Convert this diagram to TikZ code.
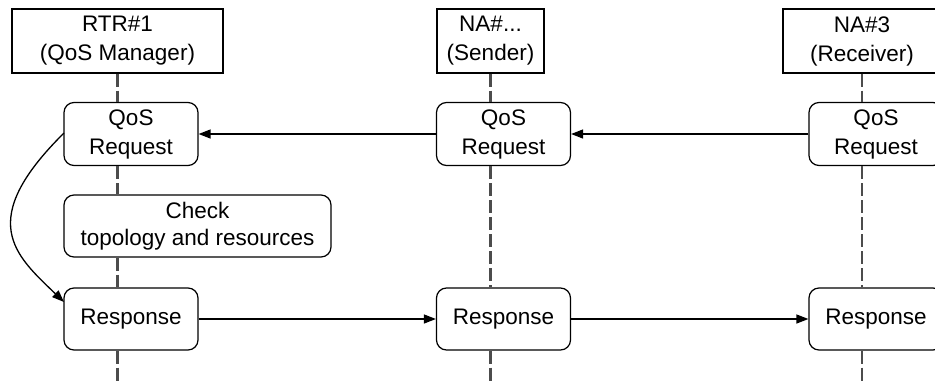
\documentclass[tikz,border=0pt]{standalone}
\usepackage{fontspec}
\setmainfont{Liberation Sans}
\usetikzlibrary{arrows.meta}
\begin{document}
\begin{tikzpicture}[x=1pt,y=-1pt,
  txt/.style={font=\fontsize{22.5}{29}\selectfont, align=center, inner sep=0pt},
  hdr/.style={txt, draw, line width=1.4pt, rectangle, minimum height=64pt},
  act/.style={txt, draw, line width=1.2pt, rectangle, rounded corners=10pt, minimum height=63pt},
  life/.style={draw=black!70, line width=2.8pt, dash pattern=on 13pt off 4pt},
  msg/.style={line width=1.3pt, -{Triangle[length=12pt,width=9pt]}}]
\useasboundingbox (0,0) rectangle (935,383);
% headers
\node[hdr, minimum width=211pt] (h1) at (117.5,41) {RTR\#1\\(QoS Manager)};
\node[hdr, minimum width=107pt] (h2) at (490.5,41) {NA\#...\\(Sender)};
\node[hdr, minimum width=158pt] (h3) at (862,41) {NA\#3\\(Receiver)};
% request boxes
\node[act, minimum width=134pt] (q1) at (131,134) {QoS\\Request};
\node[act, minimum width=134pt] (q2) at (503.5,134) {QoS\\Request};
\node[act, minimum width=134pt] (q3) at (876,134) {QoS\\Request};
% check
\node[act, minimum width=267pt, minimum height=62pt, font=\fontsize{22.5}{27}\selectfont] (c1) at (197.5,226) {Check\\topology and resources};
% response boxes
\node[act, minimum width=134pt, minimum height=62pt] (r1) at (131,319) {Response};
\node[act, minimum width=134pt, minimum height=62pt] (r2) at (503.5,319) {Response};
\node[act, minimum width=134pt, minimum height=62pt] (r3) at (876,319) {Response};
% bottom ends
\coordinate (e1) at (117.5,383);
\coordinate (e2) at (490.5,383);
\coordinate (e3) at (862,383);
\coordinate (cs) at (64,133);
\coordinate (ce) at (64,302);
% lifelines
\draw[life] (h1.south) -- (h1.south |- q1.north);
\draw[life] (h1.south |- q1.south) -- (h1.south |- c1.north);
\draw[life] (h1.south |- c1.south) -- (h1.south |- r1.north);
\draw[life] (h1.south |- r1.south) -- (e1);
\draw[life] (h2.south) -- (h2.south |- q2.north);
\draw[life] (h2.south |- q2.south) -- (h2.south |- r2.north);
\draw[life] (h2.south |- r2.south) -- (e2);
\draw[life] (h3.south) -- (h3.south |- q3.north);
\draw[life] (h3.south |- q3.south) -- (h3.south |- r3.north);
\draw[life] (h3.south |- r3.south) -- (e3);
% messages
\draw[msg] (q3.west) -- (q2.east);
\draw[msg] (q2.west) -- (q1.east);
\draw[msg] (r1.east) -- (r2.west);
\draw[msg] (r2.east) -- (r3.west);
\draw[msg] (cs) .. controls (-25,221) and (15,255) .. (ce);
\end{tikzpicture}
\end{document}
